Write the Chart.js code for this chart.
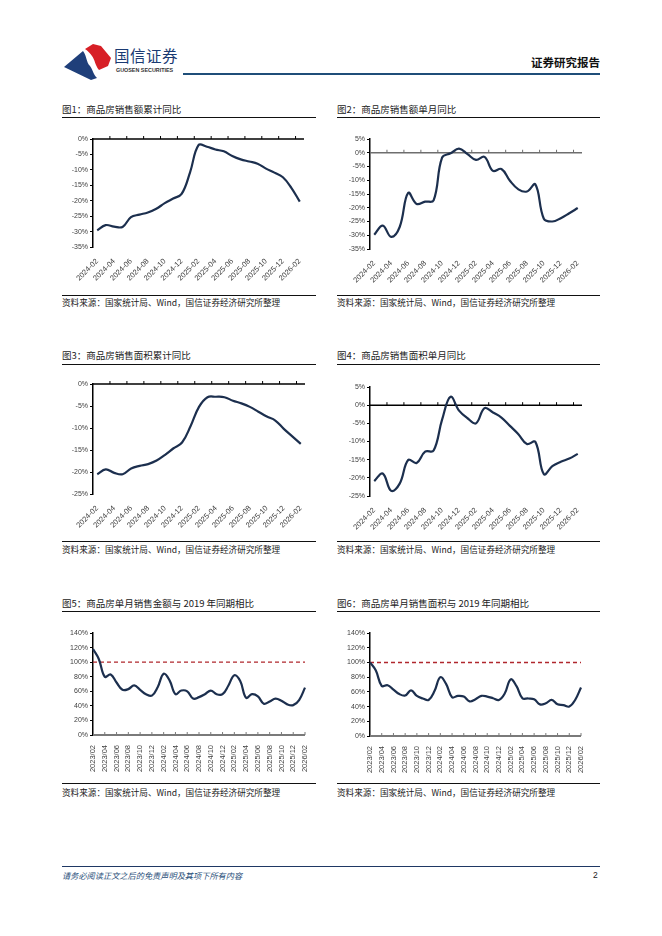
<!DOCTYPE html>
<html>
<head>
<meta charset="utf-8">
<script src="https://cdn.jsdelivr.net/npm/chart.js@4.4.1/dist/chart.umd.min.js"></script>
<style>
  body { margin: 0; width: 662px; height: 936px; background: #fff; position: relative; overflow: hidden;
         font-family: "Noto Sans CJK SC", "Liberation Sans", sans-serif; }
  .abs { position: absolute; }
  .fig-title { font-size: 9.5px; line-height: 12px; color: #222; white-space: nowrap; }
  .src { font-size: 8.6px; line-height: 12px; color: #222; white-space: nowrap; }
  .rule { height: 1px; background: #111; }
  .box canvas { display: block; }
</style>
</head>
<body>

<!-- 页眉 -->
<svg class="abs" style="left:64px;top:43px" width="48" height="37" viewBox="0 0 48 37">
  <path d="M0,24 L19,8 C23,13 22,19 26,23 C29,27 29,31 33,35 L27,37 Z" fill="#1f3f7a"/>
  <path d="M21,6 L29,1 L37,3 L47,15 L44,23 L35,27 C31,22 31,17 28,13 C26,10 24,8 21,6 Z" fill="#d71f26"/>
</svg>
<div class="abs" style="left:114px;top:46px;font-size:15.5px;line-height:18px;color:#1a3a72;letter-spacing:0.5px;">国信证券</div>
<div class="abs" style="left:116px;top:67px;font-family:'Liberation Sans',sans-serif;font-size:5.4px;line-height:7px;font-weight:bold;color:#333;">GUOSEN SECURITIES</div>
<div class="abs" style="right:62px;top:55px;font-size:11.5px;line-height:14px;font-weight:bold;color:#111;">证券研究报告</div>
<div class="abs" style="left:183px;top:73px;width:417px;height:2px;background:#1f4e79;"></div>

<!-- 图1 / 图2 -->
<div class="abs fig-title" style="left:62px;top:103px;">图1：商品房销售额累计同比</div>
<div class="abs rule" style="left:62px;top:117px;width:254px;"></div>
<div class="abs box" style="left:62px;top:120px;width:254px;height:172px;"><canvas id="c1"></canvas></div>
<div class="abs rule" style="left:62px;top:295px;width:254px;"></div>
<div class="abs src" style="left:62px;top:296px;">资料来源：国家统计局、Wind，国信证券经济研究所整理</div>

<div class="abs fig-title" style="left:337px;top:103px;">图2：商品房销售额单月同比</div>
<div class="abs rule" style="left:337px;top:117px;width:263px;"></div>
<div class="abs box" style="left:337px;top:120px;width:263px;height:172px;"><canvas id="c2"></canvas></div>
<div class="abs rule" style="left:337px;top:295px;width:263px;"></div>
<div class="abs src" style="left:337px;top:296px;">资料来源：国家统计局、Wind，国信证券经济研究所整理</div>

<!-- 图3 / 图4 -->
<div class="abs fig-title" style="left:62px;top:349px;">图3：商品房销售面积累计同比</div>
<div class="abs rule" style="left:62px;top:364px;width:254px;"></div>
<div class="abs box" style="left:62px;top:366px;width:254px;height:174px;"><canvas id="c3"></canvas></div>
<div class="abs rule" style="left:62px;top:541px;width:254px;"></div>
<div class="abs src" style="left:62px;top:543px;">资料来源：国家统计局、Wind，国信证券经济研究所整理</div>

<div class="abs fig-title" style="left:337px;top:349px;">图4：商品房销售面积单月同比</div>
<div class="abs rule" style="left:337px;top:364px;width:263px;"></div>
<div class="abs box" style="left:337px;top:366px;width:263px;height:174px;"><canvas id="c4"></canvas></div>
<div class="abs rule" style="left:337px;top:541px;width:263px;"></div>
<div class="abs src" style="left:337px;top:543px;">资料来源：国家统计局、Wind，国信证券经济研究所整理</div>

<!-- 图5 / 图6 -->
<div class="abs fig-title" style="left:62px;top:597px;">图5：商品房单月销售金额与 2019 年同期相比</div>
<div class="abs rule" style="left:62px;top:611px;width:254px;"></div>
<div class="abs box" style="left:62px;top:613px;width:254px;height:168px;"><canvas id="c5"></canvas></div>
<div class="abs rule" style="left:62px;top:783px;width:254px;"></div>
<div class="abs src" style="left:62px;top:786px;">资料来源：国家统计局、Wind，国信证券经济研究所整理</div>

<div class="abs fig-title" style="left:337px;top:597px;">图6：商品房单月销售面积与 2019 年同期相比</div>
<div class="abs rule" style="left:337px;top:611px;width:263px;"></div>
<div class="abs box" style="left:337px;top:613px;width:263px;height:168px;"><canvas id="c6"></canvas></div>
<div class="abs rule" style="left:337px;top:783px;width:263px;"></div>
<div class="abs src" style="left:337px;top:786px;">资料来源：国家统计局、Wind，国信证券经济研究所整理</div>

<!-- 页脚 -->
<div class="abs" style="left:62px;top:866px;width:538px;height:1px;background:#1f3864;"></div>
<div class="abs" style="left:62px;top:869px;font-size:8.2px;line-height:12px;font-style:italic;color:#1f4e79;">请务必阅读正文之后的免责声明及其项下所有内容</div>
<div class="abs" style="left:593px;top:869px;font-family:'Liberation Sans',sans-serif;font-size:8.5px;line-height:12px;color:#222;">2</div>

<script>
// 月份（图1-图4）
const months24 = ['2024-02', '2024-03', '2024-04', '2024-05', '2024-06', '2024-07', '2024-08', '2024-09',
  '2024-10', '2024-11', '2024-12', '2025-01', '2025-02', '2025-03', '2025-04', '2025-05', '2025-06',
  '2025-07', '2025-08', '2025-09', '2025-10', '2025-11', '2025-12', '2026-01', '2026-02'];
// 月份（图5-图6）
const months23 = ['2023/02', '2023/03', '2023/04', '2023/05', '2023/06', '2023/07', '2023/08', '2023/09',
  '2023/10', '2023/11', '2023/12', '2024/01', '2024/02', '2024/03', '2024/04', '2024/05', '2024/06',
  '2024/07', '2024/08', '2024/09', '2024/10', '2024/11', '2024/12', '2025/01', '2025/02', '2025/03',
  '2025/04', '2025/05', '2025/06', '2025/07', '2025/08', '2025/09', '2025/10', '2025/11', '2025/12',
  '2026/01', '2026/02'];

// 图1 商品房销售额累计同比 (%)
const cumAmountYoy = [-29.6, -27.9, -28.4, -28.5, -25.3, -24.5, -23.8, -22.6, -20.8, -19.3, -17.8, -10.8,
  -2.0, -2.5, -3.4, -4.0, -5.5, -6.6, -7.3, -8.0, -9.6, -10.9, -12.4, -15.8, -20.3];
// 图2 商品房销售额单月同比 (%)
const monthAmountYoy = [-29.8, -26.5, -30.6, -27.0, -14.6, -18.6, -17.8, -17.3, -1.8, -0.2, 1.5, -0.5,
  -2.6, -1.5, -6.6, -5.9, -10.2, -13.3, -14.1, -11.5, -24.0, -25.0, -23.8, -22.0, -20.1];
// 图3 商品房销售面积累计同比 (%)
const cumAreaYoy = [-20.5, -19.4, -20.2, -20.5, -19.2, -18.6, -18.2, -17.4, -16.1, -14.6, -13.3, -9.6,
  -5.2, -3.0, -2.9, -3.0, -3.8, -4.4, -5.2, -6.3, -7.4, -8.3, -10.2, -11.9, -13.6];
// 图4 商品房销售面积单月同比 (%)
const monthAreaYoy = [-20.9, -18.8, -23.6, -21.6, -15.1, -15.9, -12.8, -12.5, -4.0, 2.3, -1.5, -3.6,
  -5.0, -0.8, -2.0, -3.4, -5.7, -8.0, -10.7, -10.1, -19.0, -16.8, -15.6, -14.7, -13.4];
// 图5 单月销售金额 / 2019年同期 (%)
const amountVs2019 = [118, 104, 80, 83, 72, 62, 63, 68, 62, 56, 54, 66, 84, 75, 56, 61, 60, 50, 52, 56,
  61, 56, 56, 68, 82, 74, 51, 56, 53, 43, 46, 50, 47, 42, 41, 48, 65];
// 图6 单月销售面积 / 2019年同期 (%)
const areaVs2019 = [100, 89, 68, 69, 63, 57, 55, 62, 54.5, 51, 49, 61, 80, 70.5, 52.7, 54.5, 53.6, 47, 50,
  54.5, 53.6, 51.4, 49, 58, 77, 67.7, 51.4, 51, 50, 43, 44.5, 49, 43, 42, 40, 49, 66];
// 2019年同期 = 100%
const REF_LEVEL = 100;

const LINE_COLOR = '#1c2f4e';
Chart.defaults.font.family = '"Liberation Sans", Arial, sans-serif';
Chart.defaults.color = '#404040';
Chart.defaults.animation = false;

// 0 轴线和刻度线（Excel 风格）
const zeroAxis = {
  id: 'zeroAxis',
  beforeDatasetsDraw(chart, args, opts) {
    const { ctx, chartArea: a, scales: { x, y } } = chart;
    const y0 = y.getPixelForValue(0);
    ctx.save();
    ctx.strokeStyle = opts.color;
    ctx.lineWidth = opts.width;
    ctx.beginPath();
    ctx.moveTo(a.left, y0);
    ctx.lineTo(a.right, y0);
    ctx.stroke();
    ctx.lineWidth = 1;
    const n = chart.data.labels.length;
    for (let k = 2; k < n; k += 2) {
      const px = opts.between
        ? (x.getPixelForValue(k - 1) + x.getPixelForValue(k)) / 2
        : x.getPixelForValue(k);
      ctx.beginPath();
      ctx.moveTo(px, y0);
      ctx.lineTo(px, y0 - 3);
      ctx.stroke();
    }
    ctx.restore();
  }
};

function makeChart(id, cfg) {
  const datasets = [{
    data: cfg.values,
    borderColor: LINE_COLOR,
    borderWidth: 2.2,
    pointRadius: 0,
    tension: 0.4,
    fill: false
  }];
  if (cfg.ref) {
    datasets.push({
      data: cfg.labels.map(() => REF_LEVEL),
      borderColor: '#b0272d',
      borderWidth: 1.4,
      borderDash: [4, 3],
      pointRadius: 0,
      fill: false
    });
  }
  new Chart(document.getElementById(id), {
    type: 'line',
    data: { labels: cfg.labels, datasets: datasets },
    options: {
      responsive: true,
      maintainAspectRatio: false,
      layout: { padding: { top: cfg.padTop, right: cfg.padRight, left: 0, bottom: 0 } },
      plugins: {
        legend: { display: false },
        tooltip: { enabled: false },
        zeroAxis: { color: cfg.axisColor, width: cfg.axisWidth, between: cfg.between }
      },
      scales: {
        x: {
          offset: cfg.between,
          grid: { display: false },
          border: { display: false },
          afterFit: s => { s.height = cfg.xHeight; },
          ticks: {
            autoSkip: false,
            maxRotation: cfg.rotate,
            minRotation: cfg.rotate,
            padding: 2,
            font: { size: 7.5 },
            callback: (v, i) => (i % 2 === 0 ? cfg.labels[i] : '')
          }
        },
        y: {
          min: cfg.min,
          max: cfg.max,
          afterFit: s => { s.width = cfg.yWidth; },
          grid: { drawOnChartArea: false, drawTicks: true, tickLength: 3, color: '#000', lineWidth: 1 },
          border: { display: true, color: '#000', width: 1.5 },
          ticks: {
            stepSize: cfg.step,
            padding: 2,
            font: { size: 7 },
            callback: v => v + '%'
          }
        }
      }
    },
    plugins: [zeroAxis]
  });
}

makeChart('c1', { labels: months24, values: cumAmountYoy, min: -35, max: 0, step: 5,
  between: true, rotate: 45, yWidth: 31, xHeight: 45, padTop: 19, padRight: 12,
  axisColor: '#000', axisWidth: 1.5 });
makeChart('c2', { labels: months24, values: monthAmountYoy, min: -35, max: 5, step: 5,
  between: true, rotate: 45, yWidth: 33, xHeight: 43, padTop: 19, padRight: 18,
  axisColor: '#6e6e6e', axisWidth: 1.6 });
makeChart('c3', { labels: months24, values: cumAreaYoy, min: -25, max: 0, step: 5,
  between: true, rotate: 45, yWidth: 31, xHeight: 46, padTop: 18, padRight: 11,
  axisColor: '#000', axisWidth: 1.5 });
makeChart('c4', { labels: months24, values: monthAreaYoy, min: -25, max: 5, step: 5,
  between: true, rotate: 45, yWidth: 33, xHeight: 44, padTop: 21, padRight: 18,
  axisColor: '#000', axisWidth: 1.5 });
makeChart('c5', { labels: months23, values: amountVs2019, min: 0, max: 140, step: 20, ref: true,
  between: false, rotate: 90, yWidth: 31, xHeight: 46, padTop: 20, padRight: 11,
  axisColor: '#7a7a7a', axisWidth: 2 });
makeChart('c6', { labels: months23, values: areaVs2019, min: 0, max: 140, step: 20, ref: true,
  between: false, rotate: 90, yWidth: 33, xHeight: 45, padTop: 20, padRight: 19,
  axisColor: '#7a7a7a', axisWidth: 2 });
</script>
</body>
</html>
